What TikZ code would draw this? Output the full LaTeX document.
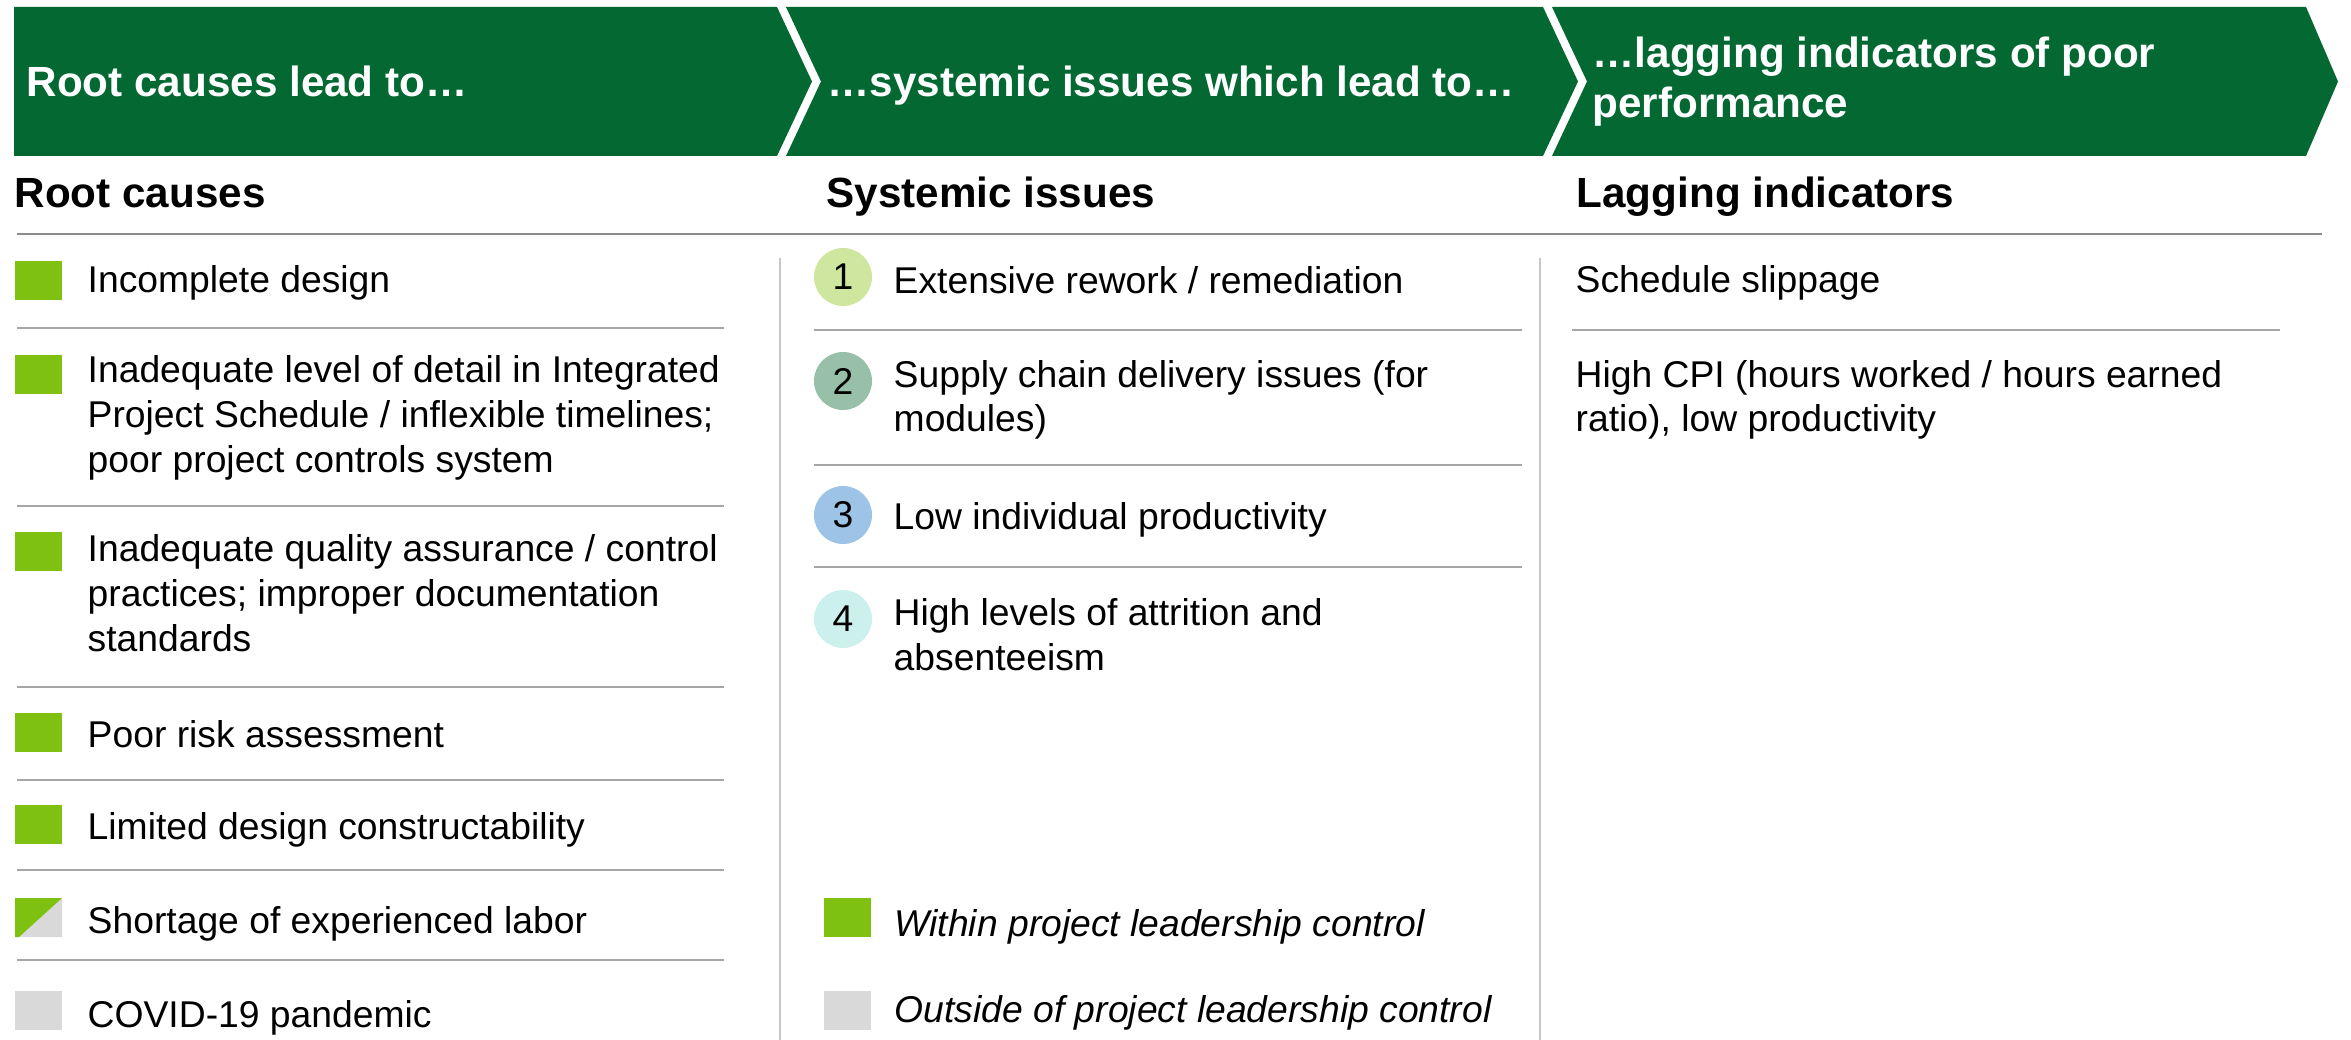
\documentclass[tikz,border=0pt]{standalone}
\usepackage{fontspec}
\setmainfont{Liberation Sans}

\definecolor{bandgreen}{RGB}{3,104,50}
\definecolor{ctrlgreen}{RGB}{126,193,16}
\definecolor{ctrlgray}{RGB}{217,217,217}
\definecolor{rulegray}{RGB}{140,140,140}
\definecolor{sepgray}{RGB}{166,166,166}
\definecolor{colgray}{RGB}{200,200,200}
\definecolor{issueA}{RGB}{206,230,158}
\definecolor{issueB}{RGB}{152,192,168}
\definecolor{issueC}{RGB}{157,195,230}
\definecolor{issueD}{RGB}{204,240,238}

\tikzset{
  bandtext/.style={anchor=base west, inner sep=0pt, align=left, text=white,
    font=\fontsize{12}{14.5}\selectfont\bfseries},
  coltitle/.style={anchor=base west, inner sep=0pt,
    font=\fontsize{12}{14.5}\selectfont\bfseries},
  itemtext/.style={anchor=base west, inner sep=0pt, align=left,
    font=\fontsize{10.6}{12.66}\selectfont},
  numdot/.style={circle, minimum size=0.58cm, inner sep=0pt,
    font=\fontsize{10.6}{12.66}\selectfont},
  rowline/.style={line width=0.6pt, sepgray},
  colline/.style={line width=0.4pt, colgray}
}

\begin{document}
\begin{tikzpicture}[x=0.01cm, y=-0.01cm]
\useasboundingbox (0,0) rectangle (2351,1040);

\fill[bandgreen] (14,7) -- (777,7) -- (812,81.5) -- (777,156) -- (14,156) -- cycle;
\fill[bandgreen] (786,7) -- (1543,7) -- (1578,81.5) -- (1543,156) -- (786,156) -- (821,81.5) -- cycle;
\fill[bandgreen] (1552,7) -- (2306,7) -- (2338,81.5) -- (2306,156) -- (1552,156) -- (1587,81.5) -- cycle;

% multi-line nodes sit on the base of their last line
\node[bandtext] (band1) at (26,97) {Root causes lead to…};
\node[bandtext] (band2) at (827,97) {…systemic issues which lead to…};
\node[bandtext] (band3) at (1592,118) {…lagging indicators of poor\\performance};

\node[coltitle] (root) at (14,208) {Root causes};
\node[coltitle] (systemic) at (826,208) {Systemic issues};
\node[coltitle] (lagging) at (1576,208) {Lagging indicators};

\draw[line width=0.7pt, rulegray] (17,234) -- (2322,234);

\draw[colline] (780,258) -- (780,1040);
\draw[colline] (1540,258) -- (1540,1040);

% root causes
\fill[ctrlgreen] (15,261) rectangle (62,300);
\fill[ctrlgreen] (15,355) rectangle (62,394);
\fill[ctrlgreen] (15,532) rectangle (62,571);
\fill[ctrlgreen] (15,713) rectangle (62,752);
\fill[ctrlgreen] (15,805) rectangle (62,844);
\fill[ctrlgray] (62,898) -- (62,937) -- (15,937) -- cycle;
\fill[ctrlgreen] (15,898) -- (62,898) -- (19,937) -- (15,937) -- cycle;
\fill[ctrlgray] (15,991) rectangle (62,1030);

\node[itemtext] (rc1) at (87,293) {Incomplete design};
\node[itemtext] (rc2) at (87,472) {Inadequate level of detail in Integrated\\Project Schedule / inflexible timelines;\\poor project controls system};
\node[itemtext] (rc3) at (87,651) {Inadequate quality assurance / control\\practices; improper documentation\\standards};
\node[itemtext] (rc4) at (87,747) {Poor risk assessment};
\node[itemtext] (rc5) at (87,839) {Limited design constructability};
\node[itemtext] (rc6) at (87,933) {Shortage of experienced labor};
\node[itemtext] (rc7) at (87,1027) {COVID-19 pandemic};

\draw[rowline] (17,328) -- (724,328);
\draw[rowline] (17,506) -- (724,506);
\draw[rowline] (17,687) -- (724,687);
\draw[rowline] (17,780) -- (724,780);
\draw[rowline] (17,870) -- (724,870);
\draw[rowline] (17,960) -- (724,960);

% systemic issues
\node[numdot, fill=issueA] (n1) at (843,277) {1};
\node[numdot, fill=issueB] (n2) at (843,381) {2};
\node[numdot, fill=issueC] (n3) at (843,515) {3};
\node[numdot, fill=issueD] (n4) at (843,619) {4};

\node[itemtext] (si1) at (893,294) {Extensive rework / remediation};
\node[itemtext] (si2) at (893,432) {Supply chain delivery issues (for\\modules)};
\node[itemtext] (si3) at (893,530) {Low individual productivity};
\node[itemtext] (si4) at (893,670) {High levels of attrition and\\absenteeism};

\draw[rowline] (814,330) -- (1522,330);
\draw[rowline] (814,465) -- (1522,465);
\draw[rowline] (814,567) -- (1522,567);

\fill[ctrlgreen] (824,898) rectangle (871,937);
\fill[ctrlgray] (824,991) rectangle (871,1030);
\node[itemtext, font=\fontsize{10.6}{12.66}\selectfont\itshape] (within) at (894,936) {Within project leadership control};
\node[itemtext, font=\fontsize{10.6}{12.66}\selectfont\itshape] (outside) at (894,1022) {Outside of project leadership control};

% lagging indicators
\node[itemtext] (li1) at (1575,293) {Schedule slippage};
\node[itemtext] (li2) at (1575,432) {High CPI (hours worked / hours earned\\ratio), low productivity};

\draw[rowline] (1572,330) -- (2280,330);
\end{tikzpicture}
\end{document}
